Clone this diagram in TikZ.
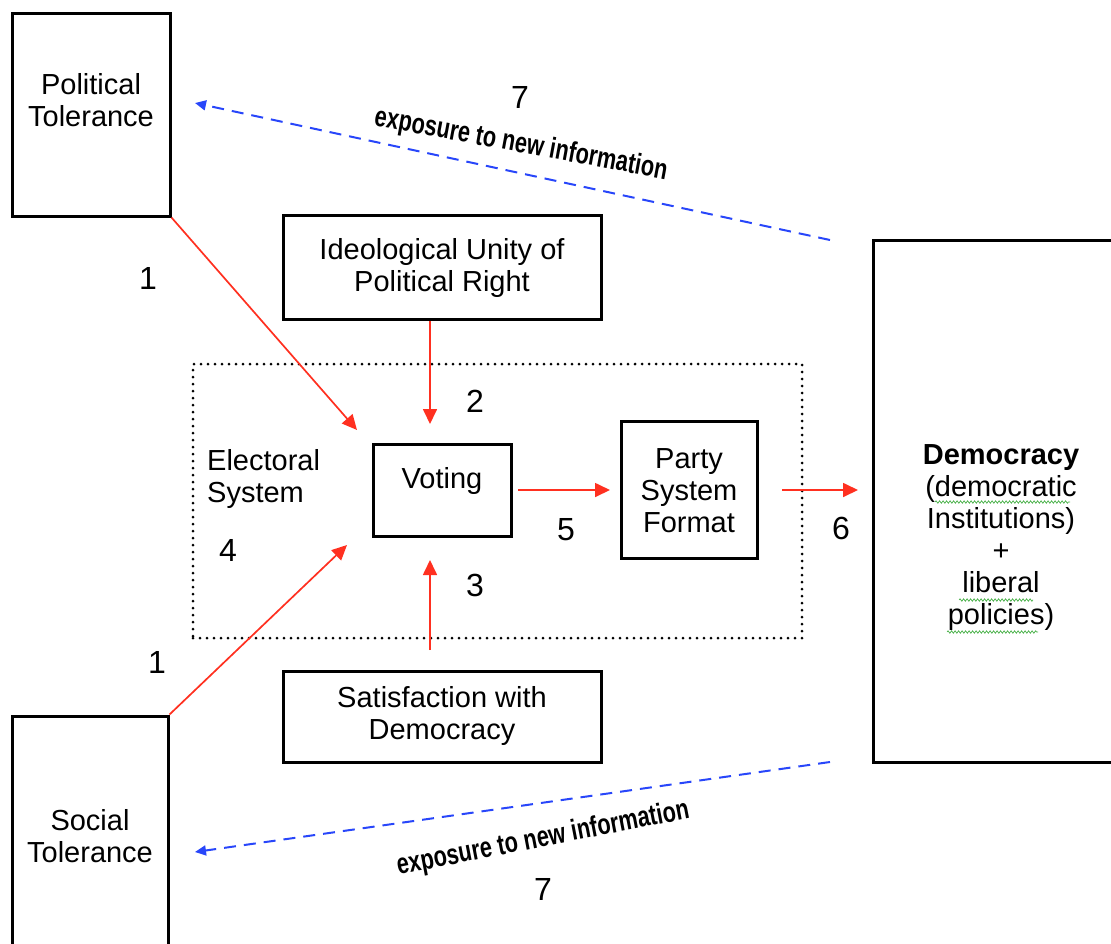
\documentclass[tikz,border=0pt]{standalone}
\usepackage{fontspec}
\setmainfont{Liberation Sans}
\newfontfamily\infofont{Liberation Sans}[FakeStretch=0.75,UprightFont=*-Bold]
\usetikzlibrary{arrows.meta,decorations.pathmorphing}
\definecolor{linkred}{RGB}{255,48,32}
\definecolor{infoblue}{RGB}{40,70,250}
\definecolor{spellgreen}{RGB}{70,175,70}
\begin{document}
\begin{tikzpicture}[x=1pt,y=-1pt,
  box/.style={draw=black,line width=3pt,inner sep=0pt},
  txt/.style={align=center,font=\fontsize{29}{32}\selectfont,inner sep=0pt},
  num/.style={font=\fontsize{32}{34}\selectfont,inner sep=0pt},
  causal/.style={draw=linkred,line width=1.7pt,-{Triangle[length=15pt,width=14pt]}},
  feedback/.style={draw=infoblue,line width=2pt,dash pattern=on 12pt off 8pt,-{Triangle[length=11pt,width=10pt]}},
  infotext/.style={font=\infofont\fontsize{29}{30}\selectfont,inner sep=0pt},
  spell/.style={draw=spellgreen,line width=0.7pt,decorate,decoration={snake,amplitude=1.2pt,segment length=3.5pt}},
]
\useasboundingbox (0,0) rectangle (1111,943);
\clip (0,0) rectangle (1111,943);

% frames
\node[box,minimum width=158pt,minimum height=203pt] (pt) at (91,114.5) {};
\node[box,minimum width=156pt,minimum height=264pt] (st) at (90,848) {};
\node[box,minimum width=318pt,minimum height=104pt] (ideo) at (442,267) {};
\node[box,minimum width=318pt,minimum height=91pt] (sat) at (442,716.5) {};
\node[box,minimum width=138pt,minimum height=92pt] (vote) at (442,490) {};
\node[box,minimum width=136pt,minimum height=137pt] (party) at (689,489.5) {};
\node[box,minimum width=257pt,minimum height=522pt] (demo) at (1001.5,501) {};
\node[draw=black,line width=3pt,dash pattern=on 0pt off 7pt,line cap=round,
      minimum width=609pt,minimum height=274pt,inner sep=0pt] (elec) at (497.5,501) {};

% texts
\node[txt] (ptT) at (91,100) {Political\\Tolerance};
\node[txt] (stT) at (90,836) {Social\\Tolerance};
\node[txt] (ideoT) at (442,268) {Ideological Unity of\\Political Right};
\node[txt] (satT) at (442,716) {Satisfaction with\\Democracy};
\node[txt] (voteT) at (442,481) {Voting};
\node[txt] (partyT) at (689,490.5) {Party\\System\\Format};
\node[txt,align=left,anchor=west] (elecT) at (207,478.5) {Electoral\\System};
\node[txt] (demoT) at (1001,537.5) {\textbf{Democracy}\\(democratic\\Institutions)\\+\\liberal\\policies)};

% spelling marks under the Democracy text
\draw[spell] (935,502) -- (1070,502);
\draw[spell] (959,600) -- (1033,600);
\draw[spell] (947,632) -- (1038,632);

% free arrow ends
\coordinate (a1) at (357,430);
\coordinate (b1) at (347,545);
\coordinate (a2) at (430,424);
\coordinate (a3s) at (430,650);
\coordinate (a3) at (430,560);
\coordinate (a5s) at (518,490);
\coordinate (a5) at (610,490);
\coordinate (a6s) at (782,490);
\coordinate (a6) at (858,490);
\coordinate (f1s) at (830,240);
\coordinate (f1) at (195,103);
\coordinate (f2s) at (830,762);
\coordinate (f2) at (195,852);

% causal links
\draw[causal] (pt.south east) -- (a1);
\draw[causal] (st.north east) -- (b1);
\draw[causal] (ideo.south -| a2) -- (a2);
\draw[causal] (a3s) -- (a3);
\draw[causal] (a5s) -- (a5);
\draw[causal] (a6s) -- (a6);

% feedback links
\draw[feedback] (f1s) -- (f1);
\draw[feedback] (f2s) -- (f2);
\node[infotext,rotate=-10.5] (inf1) at (521,145) {exposure to new information};
\node[infotext,rotate=11] (inf2) at (543,839) {exposure to new information};

% path numbers
\node[num] (n1a) at (148,278) {1};
\node[num] (n1b) at (157,662) {1};
\node[num] (n2) at (475,401) {2};
\node[num] (n3) at (475,585) {3};
\node[num] (n4) at (228,550) {4};
\node[num] (n5) at (566,530) {5};
\node[num] (n6) at (841,528) {6};
\node[num] (n7a) at (520,97) {7};
\node[num] (n7b) at (543,889) {7};
\end{tikzpicture}
\end{document}
